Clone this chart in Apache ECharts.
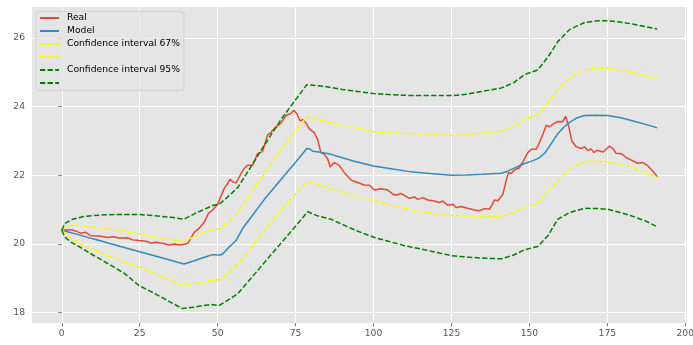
<!DOCTYPE html>
<html>
<head>
<meta charset="utf-8">
<script src="https://cdn.jsdelivr.net/npm/echarts@6/dist/echarts.min.js"></script>
<style>
html,body{margin:0;padding:0;background:#fff;}
#chart{width:693px;height:345px;}
</style>
</head>
<body>
<div id="chart"></div>
<script>
// ---- data ----
var xTicks = [0, 25, 50, 75, 100, 125, 150, 175, 200];
var yTicks = [18, 20, 22, 24, 26];

var realX = [0,2,3.4,5,6.1,7.7,9.3,12,14.7,16.8,18.4,21.1,22.7,24.8,27,28.6,30.2,32.3,34.5,36.1,37.7,39.3,40.5,41.4,42.5,44.1,45.7,47.1,48.4,50,51,52.1,53.2,53.9,55,55.9,56.9,58.5,59.6,61.2,62.8,64.4,66,67.1,68.7,70.3,71.9,73.5,74.4,75.4,76.4,77.3,78.3,79.4,81,82.1,83.1,84.2,85.3,86.1,87.4,89,90.6,92.8,94.9,97,98.7,100.3,102.4,104.6,106.2,107.2,108.8,111.5,113.1,114.2,115.8,117.4,119.5,121.1,122.2,123.8,125.4,126.5,128.1,130.2,132.4,134,135.6,137.2,138.8,139.9,141.5,142.5,143.3,144.1,145.2,146.8,147.9,149.5,150.6,152.2,153.2,154.3,155.4,156.4,157.5,159.1,160.7,161.6,162.6,163.6,165,166.6,167.7,168.7,169.8,170.7,171.7,173.6,175.7,176.8,177.8,179.5,181.1,182.7,184.8,186.4,187.8,189.6,191];
var realY = [20.41,20.41,20.41,20.36,20.31,20.34,20.24,20.23,20.19,20.21,20.17,20.18,20.12,20.10,20.08,20.03,20.05,20.02,19.97,20.0,19.97,19.99,20.03,20.17,20.34,20.46,20.63,20.90,20.99,21.16,21.38,21.62,21.76,21.88,21.80,21.78,21.95,22.2,22.29,22.29,22.63,22.69,23.17,23.25,23.41,23.52,23.74,23.80,23.89,23.80,23.59,23.62,23.53,23.35,23.24,23.04,22.66,22.61,22.48,22.24,22.37,22.29,22.08,21.86,21.79,21.72,21.71,21.57,21.61,21.57,21.45,21.42,21.47,21.33,21.37,21.30,21.35,21.28,21.25,21.21,21.25,21.13,21.16,21.06,21.09,21.04,20.99,20.97,21.03,21.01,21.28,21.26,21.45,21.83,22.08,22.05,22.15,22.22,22.39,22.66,22.76,22.76,22.95,23.19,23.46,23.41,23.48,23.57,23.56,23.72,23.43,23.0,22.83,22.78,22.83,22.72,22.77,22.66,22.73,22.68,22.85,22.78,22.64,22.63,22.51,22.44,22.35,22.37,22.29,22.12,21.96];

var modelX = [0,5,10,20,30,39.2,42,46,48.4,50.8,51.6,53,55.9,58,60.7,65,70.3,75,78.6,79.5,80.5,83,86.4,90,93.8,100,105.6,112,118,125,130,135,141,143,145,148,151,153,155,157,159,161,163,165,167.6,171,175,179,183,187,191];
var modelY = [20.40,20.28,20.15,19.90,19.65,19.42,19.50,19.62,19.69,19.68,19.71,19.85,20.10,20.45,20.78,21.30,21.88,22.38,22.78,22.77,22.70,22.67,22.61,22.51,22.41,22.27,22.19,22.10,22.05,22.00,22.01,22.03,22.06,22.12,22.20,22.33,22.42,22.50,22.65,22.92,23.20,23.40,23.55,23.66,23.74,23.75,23.74,23.68,23.59,23.49,23.38];

var ci67UpX = [0,1,3.5,10,20,25,30,35,39.2,42,46,50.5,53,56.4,60,65,70.3,75,78.6,82,90,100,110,118,125,130,135,141,145,148.4,152.7,156,160,164,167.7,172,176,182.7,187,191];
var ci67UpY = [20.40,20.50,20.55,20.50,20.38,20.29,20.20,20.13,20.07,20.20,20.36,20.44,20.60,20.92,21.40,22.05,22.75,23.30,23.70,23.62,23.46,23.27,23.22,23.19,23.16,23.19,23.23,23.29,23.42,23.62,23.77,24.10,24.60,24.90,25.07,25.12,25.12,25.00,24.92,24.81];

var ci67LoX = [0,3.4,6,10,15,20,24.8,30,35,39.2,44,48.4,50.5,53,56.4,60,65,70.3,75,78.9,82,90,100.3,105.6,112,118,125.4,134.5,141,145,148.4,152.7,156,159.1,163,167.7,172,175.2,179,182.7,187,191];
var ci67LoY = [20.40,20.14,20.00,19.85,19.65,19.48,19.33,19.13,18.94,18.79,18.88,18.94,18.96,19.12,19.40,19.80,20.40,20.98,21.45,21.83,21.74,21.50,21.26,21.13,21.00,20.90,20.83,20.81,20.81,20.92,21.06,21.20,21.55,21.83,22.20,22.40,22.41,22.39,22.32,22.22,22.09,21.93];

var ci95UpX = [0,1,3.4,7,12,17,25,30,35,39.2,43,48.4,50.5,53,56.4,60,65,70.3,75,78.6,84.2,90,100,108.8,115,125,130,134.5,141,145,148.4,152.7,156,159.1,163,167.7,172,175.2,179,182.7,187,191];
var ci95UpY = [20.40,20.60,20.72,20.80,20.84,20.86,20.86,20.82,20.78,20.72,20.90,21.12,21.16,21.35,21.64,22.15,22.88,23.62,24.20,24.64,24.59,24.50,24.38,24.33,24.32,24.32,24.36,24.44,24.54,24.70,24.93,25.07,25.45,25.89,26.25,26.45,26.50,26.50,26.46,26.41,26.33,26.26];

var ci95LoX = [0,1,3,6,10,15,20,24.8,30,35,38.7,42,47.8,50.5,53,56.4,60,65,70.3,75,78.9,82,86.4,90,95,100.3,110,118,125,130,134.5,141,145,148.4,152.7,156,159.1,163,167.7,172,175.2,179,182.7,187,191];
var ci95LoY = [20.40,20.20,20.05,19.90,19.68,19.42,19.15,18.79,18.55,18.30,18.12,18.16,18.24,18.21,18.35,18.55,18.93,19.46,20.02,20.52,20.94,20.82,20.72,20.57,20.37,20.19,19.95,19.80,19.66,19.62,19.59,19.57,19.68,19.83,19.93,20.25,20.72,20.92,21.04,21.03,21.01,20.92,20.82,20.68,20.50];

var legendNames = ['Real', 'Model', 'Confidence interval 67%', ' ', 'Confidence interval 95%', '  '];

function pairs(xs, ys) { return xs.map(function (x, i) { return [x, ys[i]]; }); }

var FONT = 'DejaVu Sans';
var dash = [5.3, 2.3];

function lineSeries(name, xs, ys, color, dashed) {
  return {
    type: 'line',
    name: name,
    data: pairs(xs, ys),
    symbol: 'none',
    showSymbol: false,
    smooth: false,
    silent: true,
    lineStyle: { color: color, width: 1.5, type: dashed ? dash : 'solid' },
    itemStyle: { color: color }
  };
}

var chart = echarts.init(document.getElementById('chart'), null, { renderer: 'canvas' });
chart.setOption({
  animation: false,
  backgroundColor: '#ffffff',
  textStyle: { fontFamily: FONT },
  grid: {
    left: 32, right: 6, top: 7, bottom: 22,
    show: true, backgroundColor: '#E5E5E5', borderWidth: 0,
    containLabel: false, outerBoundsMode: 'none'
  },
  legend: {
    orient: 'vertical',
    left: 36, top: 11.5,
    padding: [2, 4, 3, 3],
    itemWidth: 19, itemHeight: 10, itemGap: 4,
    backgroundColor: 'rgba(229,229,229,0.8)',
    borderColor: '#D3D3D3', borderWidth: 1, borderRadius: 3,
    selectedMode: false,
    itemStyle: { opacity: 0, borderWidth: 0 },
    data: legendNames,
    textStyle: { fontFamily: FONT, fontSize: 9.2, color: '#000', padding: [0, 0, 0, 3] }
  },
  xAxis: {
    type: 'value',
    min: -9.55, max: 200.55,
    axisLine: { show: false },
    axisTick: { show: true, length: 3.5, lineStyle: { color: '#555', width: 0.8 }, customValues: xTicks },
    axisLabel: { color: '#555', fontFamily: FONT, fontSize: 9.2, margin: 6, customValues: xTicks },
    splitLine: { show: true, lineStyle: { color: '#ffffff', width: 1 } }
  },
  yAxis: {
    type: 'value',
    min: 17.7, max: 26.9,
    axisLine: { show: false },
    axisTick: { show: true, length: 3.5, lineStyle: { color: '#555', width: 0.8 }, customValues: yTicks },
    axisLabel: { color: '#555', fontFamily: FONT, fontSize: 9.2, margin: 7, customValues: yTicks },
    splitLine: { show: true, lineStyle: { color: '#ffffff', width: 1 } }
  },
  series: [
    lineSeries(legendNames[0], realX, realY, '#E24A33', false),
    lineSeries(legendNames[1], modelX, modelY, '#348ABD', false),
    lineSeries(legendNames[2], ci67UpX, ci67UpY, '#FFFF00', true),
    lineSeries(legendNames[3], ci67LoX, ci67LoY, '#FFFF00', true),
    lineSeries(legendNames[4], ci95UpX, ci95UpY, '#008000', true),
    lineSeries(legendNames[5], ci95LoX, ci95LoY, '#008000', true)
  ]
});
</script>
</body>
</html>
